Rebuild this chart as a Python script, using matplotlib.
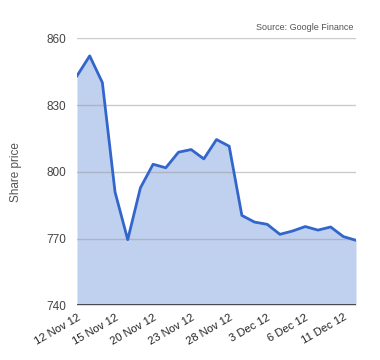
import matplotlib
matplotlib.use("Agg")
import matplotlib.pyplot as plt

dates = ["12 Nov 12", "13 Nov 12", "14 Nov 12", "15 Nov 12", "16 Nov 12", "19 Nov 12",
         "20 Nov 12", "21 Nov 12", "22 Nov 12", "23 Nov 12", "26 Nov 12", "27 Nov 12",
         "28 Nov 12", "29 Nov 12", "30 Nov 12", "3 Dec 12", "4 Dec 12", "5 Dec 12",
         "6 Dec 12", "7 Dec 12", "10 Dec 12", "11 Dec 12", "12 Dec 12"]
prices = [843.1, 852.1, 840.1, 790.9, 769.5, 792.8, 803.4, 801.8, 808.8, 810.0, 805.8,
          814.5, 811.5, 780.4, 777.4, 776.4, 771.9, 773.4, 775.4, 773.8, 775.2, 770.9, 769.2]
yticks = [740, 770, 800, 830, 860]

plt.rcParams['font.family'] = ['Liberation Sans', 'DejaVu Sans']

fig = plt.figure(figsize=(3.8, 3.6), dpi=100)
ax = fig.add_axes([77/380, 1 - 305.3/360, (356 - 77)/380, (305.3 - 38.3)/360])

x = list(range(len(dates)))
ax.fill_between(x, prices, 740, color='#c0d0ef', lw=0, zorder=1)
for v in yticks[1:]:
    ax.axhline(v, color='#999999', lw=1, alpha=0.5, zorder=2)
ax.plot(x, prices, color='#3366cc', lw=2, zorder=3)
ax.axhline(740, color='#333333', lw=1.2, zorder=4)

ax.set_xlim(0, len(dates) - 1)
ax.set_ylim(740, 860)
ax.set_yticks(yticks)
ax.set_yticklabels([str(v) for v in yticks], fontsize=8.5, color='#444444')
ax.set_xticks(x[::3])
ax.set_xticklabels(dates[::3], rotation=30, ha='right', rotation_mode='anchor',
                   fontsize=8, color='#222222')
ax.tick_params(length=0, pad=8)
ax.tick_params(axis='x', pad=5)
for s in ax.spines.values():
    s.set_visible(False)

ax.set_ylabel("Share price", fontsize=8.5, color='#555555', labelpad=17)
fig.text(353/380, 1 - 28/360, "Source: Google Finance", fontsize=6.5, color='#555555',
         ha='right', va='center')

fig.savefig("out.png", dpi=100)
